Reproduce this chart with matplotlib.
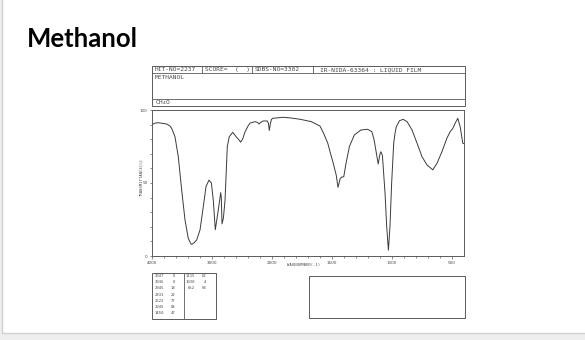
import numpy as np
import matplotlib
matplotlib.use('Agg')
import matplotlib.pyplot as plt
from matplotlib.patches import Rectangle

# IR spectrum of methanol (wavenumber cm-1, transmittance %)
wavenumber = [4000, 3950, 3895, 3820, 3755, 3700, 3672, 3617, 3562, 3505,
              3450, 3395, 3347, 3336, 3300, 3255, 3200, 3145, 3100, 3050,
              3010, 2978, 2945, 2895, 2855, 2845, 2833, 2810, 2783, 2745,
              2712, 2655, 2590, 2550, 2522, 2490, 2450, 2400, 2367, 2283,
              2240, 2217, 2190, 2145, 2080, 2060, 2045, 2030, 2010, 1995,
              1907, 1850, 1769, 1672, 1600, 1570, 1535, 1515, 1493,
              1465, 1450, 1432, 1420, 1402, 1383, 1355, 1314, 1259, 1204,
              1168, 1149, 1130, 1115, 1100, 1093, 1080, 1058, 1044, 1030,
              1017, 1003, 986, 975, 964, 937, 907, 874, 833, 791, 750,
              708, 660, 625, 584, 543, 515, 493, 474, 452, 432,
              410, 400]
transmittance = [90, 91, 91.3, 90.8, 90.4, 89, 87.4, 81.7, 68, 45,
                 24.7, 12, 8, 8, 9, 11, 17.8, 33.8, 47.5, 52,
                 50, 38, 18, 31.5, 43.4, 40, 22, 26, 38, 75,
                 81.7, 84.7, 81.3, 79.5, 78, 80, 85, 89, 91, 92,
                 91.5, 90.4, 91.5, 92.5, 92.5, 91, 86, 90, 93.5, 94.3,
                 95, 94.6, 93.7, 92, 89, 84, 77.2, 71, 64.6,
                 55.5, 47, 53, 54, 54.3, 63.5, 75, 82.9, 86.3, 86.8,
                 85.2, 79.5, 70.3, 63, 70, 71.4, 69, 43, 20, 4,
                 20, 49.8, 77, 84, 88.6, 92.7, 93.6, 92, 86.3, 77.2, 68,
                 62.3, 59, 63.5, 71.4, 80.6, 85.2, 87.4, 90.9, 94.3, 88.6,
                 77.2, 77]

# peak table
peak_wn_1 = ['3347', '3336', '2945', '2833', '2522', '2045', '1450']
peak_t_1 = ['8', '8', '18', '22', '77', '84', '47']
peak_wn_2 = ['1115', '1030', '652']
peak_t_2 = ['62', '4', '58']

x_major = [4000, 3000, 2000, 1500, 1000, 500]
y_major = [0, 50, 100]

header_cells = ['HIT-NO=2237', 'SCORE=  (  )', 'SDBS-NO=3302', 'IR-NIDA-63364 : LIQUID FILM']
compound_name = 'METHANOL'
formula = 'CH$_4$O'

W, H = 585, 340
LINE = '#5a5a5a'
TXT = '#4a4a4a'
MONO = 'DejaVu Sans Mono'


def box(x0, y0, x1, y1):
    return [x0 / W, 1 - y1 / H, (x1 - x0) / W, (y1 - y0) / H]


def fwd(w):
    w = np.asarray(w, dtype=float)
    return np.where(w >= 2000, w / 2 + 1000, w)


def inv(u):
    u = np.asarray(u, dtype=float)
    return np.where(u >= 2000, 2 * (u - 1000), u)


fig = plt.figure(figsize=(W / 100, H / 100), dpi=100)
fig.patch.set_facecolor('#eeeeee')

# background "slide" drawn in pixel coordinates
bg = fig.add_axes([0, 0, 1, 1], zorder=0)
bg.set_xlim(0, W)
bg.set_ylim(H, 0)
bg.axis('off')
bg.add_patch(Rectangle((2, -2), W, 335, facecolor='white', edgecolor='#d0d0d0', lw=1.0))

# header box
bg.add_patch(Rectangle((152.3, 66), 465 - 152.3, 105.5 - 66, fill=False, edgecolor=LINE, lw=0.7))
bg.plot([152.3, 465], [73.3, 73.3], color=LINE, lw=0.6)
bg.plot([152.3, 465], [99.3, 99.3], color=LINE, lw=0.6)
for xv in [201.7, 252.3, 313.3]:
    bg.plot([xv, xv], [66, 73.3], color=LINE, lw=0.6)
for xt, s in zip([155, 205, 255, 320], header_cells):
    bg.text(xt, 69.8, s, fontsize=4.5, family=MONO, color=TXT, va='center', ha='left')
bg.text(155, 77.5, compound_name, fontsize=4.5, family=MONO, color=TXT, va='center', ha='left')
bg.text(155, 102.5, formula, fontsize=4.5, family=MONO, color=TXT, va='center', ha='left')

# peak table
bg.add_patch(Rectangle((152.3, 272.7), 215.7 - 152.3, 319 - 272.7, fill=False, edgecolor=LINE, lw=0.7))
bg.plot([184.3, 184.3], [272.7, 319], color=LINE, lw=0.6)
for i, (a, b) in enumerate(zip(peak_wn_1, peak_t_1)):
    yy = 276 + i * 6.2
    bg.text(163.8, yy, a, fontsize=2.8, family=MONO, color=TXT, va='center', ha='right')
    bg.text(175.5, yy, b, fontsize=2.8, family=MONO, color=TXT, va='center', ha='right')
for i, (a, b) in enumerate(zip(peak_wn_2, peak_t_2)):
    yy = 276 + i * 6.2
    bg.text(194.8, yy, a, fontsize=2.8, family=MONO, color=TXT, va='center', ha='right')
    bg.text(206.5, yy, b, fontsize=2.8, family=MONO, color=TXT, va='center', ha='right')

# empty box on the right
bg.add_patch(Rectangle((309.3, 276), 465 - 309.3, 318.3 - 276, fill=False, edgecolor=LINE, lw=0.7))

# title
fig.text(27 / W, 1 - 46.7 / H, 'Methanol', fontsize=18.5, fontweight='bold',
         family='Lato', color='black', va='baseline', ha='left')

# spectrum
ax = fig.add_axes(box(152, 110, 464, 256), zorder=1)
ax.set_facecolor('none')
ax.set_xscale('function', functions=(fwd, inv))
ax.plot(wavenumber, transmittance, color='#3a3a3a', lw=0.7)
ax.set_xlim(4000, 400)
ax.set_ylim(0, 100)

ax.set_xticks(x_major)
ax.set_xticklabels([str(v) for v in x_major])
minor_x = [v for v in list(range(3800, 2000, -200)) + list(range(1900, 400, -100)) if v not in x_major]
ax.set_xticks(minor_x, minor=True)
ax.set_yticks(y_major)
ax.set_yticks(range(10, 100, 10), minor=True)
ax.tick_params(which='both', direction='out', length=1.8, width=0.5, color=LINE,
               labelsize=3, labelcolor=TXT, pad=1.5)
ax.tick_params(which='minor', length=1.2)
for s in ax.spines.values():
    s.set_color(LINE)
    s.set_linewidth(0.7)

fig.text(304 / W, 1 - 265 / H, 'WAVENUMBER(-1)', fontsize=2.8, family=MONO,
         color=TXT, ha='center', va='center')
fig.text(141 / W, 1 - 177 / H, 'TRANSMITTANCE[%]', fontsize=2.8, family=MONO,
         color=TXT, ha='center', va='center', rotation=90)

fig.savefig('out.png', dpi=100)
